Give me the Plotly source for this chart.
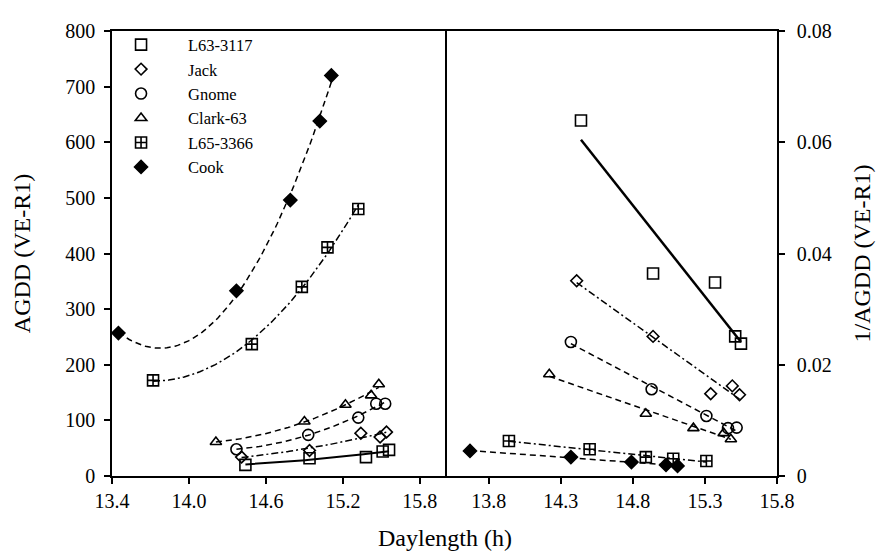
import numpy as np
import plotly.graph_objects as go

cultivars = ["L63-3117", "Jack", "Gnome", "Clark-63", "L65-3366", "Cook"]
symbols = ["square-open", "diamond-open", "circle-open", "triangle-up-open", "square-cross-open", "diamond"]
msizes = [11, 9, 11, 10, 11, 10]
dashes = ["solid", "7px,3px,2px,3px", "6px,4px", "6px,4px", "7px,3px,2px,3px", "6px,4px"]

# Left panel: AGDD (VE-R1) vs daylength (h)
left_x = {
    "L63-3117": [14.44, 14.94, 15.38, 15.51, 15.56],
    "Jack":     [14.41, 14.94, 15.34, 15.49, 15.54],
    "Gnome":    [14.37, 14.93, 15.32, 15.46, 15.53],
    "Clark-63": [14.21, 14.90, 15.22, 15.42, 15.48],
    "L65-3366": [13.72, 14.49, 14.88, 15.08, 15.32],
    "Cook":     [13.45, 14.37, 14.79, 15.02, 15.11],
}
left_y = {
    "L63-3117": [20, 32, 34, 44, 47],
    "Jack":     [34, 46, 77, 70, 79],
    "Gnome":    [48, 74, 105, 130, 130],
    "Clark-63": [61, 98, 128, 145, 165],
    "L65-3366": [172, 237, 340, 411, 480],
    "Cook":     [257, 333, 496, 638, 720],
}

# Right panel: 1/AGDD (VE-R1) vs daylength (h)
right_x = {
    "L63-3117": [14.44, 14.94, 15.37, 15.51, 15.55],
    "Jack":     [14.41, 14.94, 15.34, 15.49, 15.54],
    "Gnome":    [14.37, 14.93, 15.31, 15.46, 15.52],
    "Clark-63": [14.22, 14.89, 15.22, 15.43, 15.48],
    "L65-3366": [13.94, 14.50, 14.89, 15.08, 15.31],
    "Cook":     [13.67, 14.37, 14.79, 15.03, 15.11],
}
right_y = {
    "L63-3117": [0.0639, 0.0364, 0.0348, 0.0251, 0.0238],
    "Jack":     [0.0351, 0.0251, 0.0148, 0.0162, 0.0146],
    "Gnome":    [0.0241, 0.0156, 0.0108, 0.0086, 0.0087],
    "Clark-63": [0.0183, 0.0112, 0.0086, 0.0077, 0.0066],
    "L65-3366": [0.0063, 0.0048, 0.0034, 0.0031, 0.0027],
    "Cook":     [0.0045, 0.0034, 0.0025, 0.0020, 0.0018],
}

left_ticks = [13.4, 14.0, 14.6, 15.2, 15.8]
right_ticks = [13.8, 14.3, 14.8, 15.3, 15.8]

FONT = "Liberation Serif"
fig = go.Figure()

for i, c in enumerate(cultivars):
    lw = 2.0 if dashes[i] == "solid" else 1.5
    # left fitted curve (quadratic)
    xl = np.array(left_x[c]); yl = np.array(left_y[c])
    p2 = np.polyfit(xl, yl, 2)
    xs = np.linspace(xl.min(), xl.max(), 80)
    fig.add_trace(go.Scatter(x=xs, y=np.polyval(p2, xs), mode="lines",
                             line=dict(color="black", width=lw, dash=dashes[i]),
                             showlegend=False, hoverinfo="skip", xaxis="x", yaxis="y"))
    # right fitted line (linear)
    xr = np.array(right_x[c]); yr = np.array(right_y[c])
    p1 = np.polyfit(xr, yr, 1)
    xs2 = np.array([xr.min(), xr.max()])
    fig.add_trace(go.Scatter(x=xs2, y=np.polyval(p1, xs2), mode="lines",
                             line=dict(color="black", width=lw + 0.5 if dashes[i] == "solid" else lw, dash=dashes[i]),
                             showlegend=False, hoverinfo="skip", xaxis="x2", yaxis="y2"))

for i, c in enumerate(cultivars):
    mk = dict(symbol=symbols[i], size=msizes[i], color="black",
              line=dict(color="black", width=1.6))
    fig.add_trace(go.Scatter(x=left_x[c], y=left_y[c], mode="markers", name=c,
                             marker=mk, legendgroup=c, xaxis="x", yaxis="y"))
    fig.add_trace(go.Scatter(x=right_x[c], y=right_y[c], mode="markers", name=c,
                             marker=mk, legendgroup=c, showlegend=False,
                             xaxis="x2", yaxis="y2"))

axis_common = dict(showgrid=False, zeroline=False, showline=True, linecolor="black",
                   linewidth=1.5, ticks="outside", ticklen=6, tickwidth=1.5,
                   tickcolor="black", tickfont=dict(family=FONT, size=20, color="black"))

split = 0.5015
fig.update_layout(
    width=883, height=548,
    margin=dict(l=103, r=114, t=12, b=80),
    paper_bgcolor="white", plot_bgcolor="white",
    font=dict(family=FONT, color="black"),
    xaxis=dict(domain=[0, split], range=[13.4, 16.0], tickvals=left_ticks,
               ticktext=[f"{v:.1f}" for v in left_ticks], mirror=True, anchor="y", **axis_common),
    yaxis=dict(range=[0, 800], tickvals=list(range(0, 801, 100)), mirror=True,
               ticklabelstandoff=5,
               title=dict(text="AGDD (VE-R1)", font=dict(family=FONT, size=24), standoff=28),
               anchor="x", **axis_common),
    xaxis2=dict(domain=[split, 1], range=[13.5, 15.8], tickvals=right_ticks,
                ticktext=[f"{v:.1f}" for v in right_ticks], mirror=True, anchor="y2", **axis_common),
    yaxis2=dict(range=[0, 0.08], tickvals=[0, 0.02, 0.04, 0.06, 0.08],
                ticktext=["0", "0.02", "0.04", "0.06", "0.08"], side="right", mirror=False,
                ticklabelstandoff=8,
                title=dict(text="1/AGDD (VE-R1)", font=dict(family=FONT, size=24), standoff=22),
                anchor="x2", **axis_common),
    legend=dict(x=-0.027, y=1.008, xanchor="left", yanchor="top",
                font=dict(family=FONT, size=16.5, color="black"),
                bgcolor="rgba(0,0,0,0)", itemwidth=84, tracegroupgap=0),
    annotations=[dict(text="Daylength (h)", x=0.5, y=-0.14, xref="paper", yref="paper",
                      xanchor="center", yanchor="middle", showarrow=False,
                      font=dict(family=FONT, size=24, color="black"))],
)

fig.write_html("out.html")
